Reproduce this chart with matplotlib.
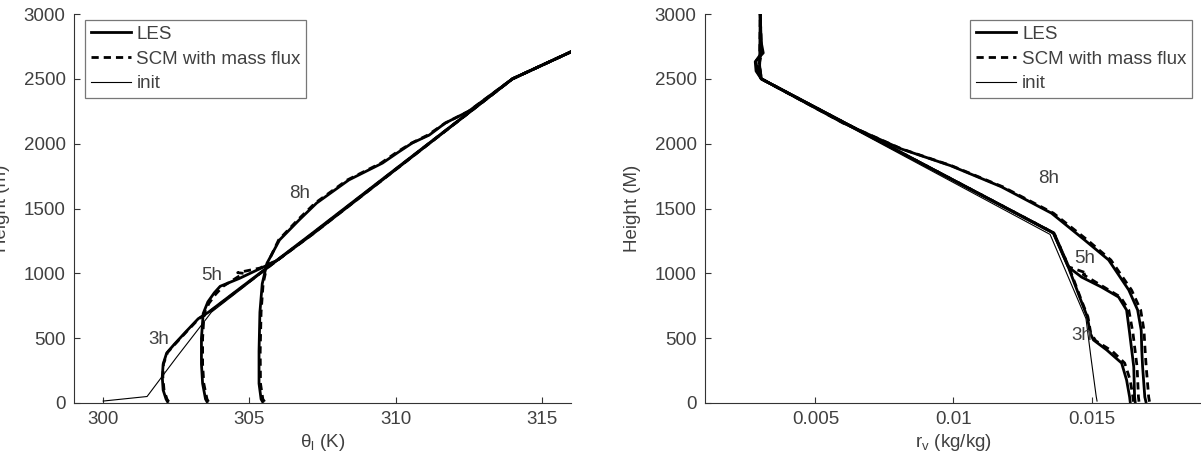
import numpy as np
import matplotlib
matplotlib.use('Agg')
import matplotlib.pyplot as plt

plt.rcParams['font.family'] = ['Liberation Sans', 'DejaVu Sans']
plt.rcParams['mathtext.fontset'] = 'custom'
plt.rcParams['mathtext.rm'] = 'Liberation Sans'

# ---- left panel: liquid water potential temperature (K) ----
init_h = [15, 50, 350, 650, 700, 1300, 2500, 2750]
init_th = [300.0, 301.5, 302.5, 303.53, 303.7, 307.13, 314.0, 316.4]

les3_h = [10, 30, 100, 200, 300, 385, 450, 550, 650, 700, 1300, 2500, 2750]
les3_th = [302.2, 302.15, 302.05, 302.02, 302.05, 302.17, 302.42, 302.83, 303.25, 303.6, 307.1, 314.0, 316.4]
scm3_h = [10, 30, 100, 200, 300, 390, 450, 550, 650, 700, 1300, 2500, 2750]
scm3_th = [302.24, 302.18, 302.08, 302.04, 302.06, 302.2, 302.44, 302.85, 303.27, 303.62, 307.12, 314.0, 316.4]

les5_h = [10, 30, 150, 300, 500, 690, 780, 850, 900, 960, 1040, 1100, 1300, 2500, 2750]
les5_th = [303.55, 303.5, 303.4, 303.36, 303.36, 303.42, 303.58, 303.8, 304.0, 304.65, 305.4, 305.95, 307.15, 314.0, 316.4]
scm5_h = [10, 30, 150, 300, 500, 690, 770, 840, 900, 1000, 1005, 1040, 1100, 1300, 2500, 2750]
scm5_th = [303.6, 303.55, 303.44, 303.4, 303.4, 303.45, 303.62, 303.85, 304.1, 304.8, 304.6, 305.35, 305.95, 307.15, 314.0, 316.4]

les8_h = [10, 30, 150, 400, 700, 920, 1077, 1257, 1411, 1542, 1720, 1850, 1935, 2005, 2066, 2159, 2250, 2500, 2750]
les8_th = [305.45, 305.4, 305.33, 305.33, 305.36, 305.44, 305.6, 306.03, 306.7, 307.3, 308.4, 309.55, 310.1, 310.57, 311.15, 311.7, 312.5, 314.0, 316.4]
scm8_h = [10, 30, 150, 400, 700, 920, 1077, 1257, 1411, 1542, 1720, 1850, 1935, 2005, 2066, 2159, 2250, 2500, 2750]
scm8_th = [305.52, 305.46, 305.38, 305.37, 305.4, 305.47, 305.62, 306.0, 306.65, 307.25, 308.35, 309.5, 310.05, 310.55, 311.1, 311.7, 312.5, 314.0, 316.4]

# ---- right panel: total water mixing ratio (kg/kg) ----
rinit_h = [15, 50, 350, 650, 700, 1300, 2500, 3000]
rinit_r = [0.0152, 0.01517, 0.01498, 0.0148, 0.0147, 0.0135, 0.003, 0.003]

rles3_h = [10, 46, 177, 308, 409, 486, 540, 663, 800, 1049, 1311, 2500, 2560, 2632, 2700, 2800, 3000]
rles3_r = [0.0164, 0.01638, 0.01627, 0.01609, 0.01555, 0.01507, 0.01495, 0.01485, 0.0146, 0.01416, 0.01362, 0.00304, 0.00285, 0.00282, 0.00311, 0.00302, 0.003]
rscm3_h = [10, 46, 177, 308, 400, 480, 540, 663, 800, 1049, 1311, 2500, 2600, 2700, 3000]
rscm3_r = [0.01652, 0.0165, 0.0164, 0.0162, 0.01575, 0.01515, 0.01497, 0.01487, 0.01462, 0.01418, 0.01364, 0.00304, 0.00295, 0.00305, 0.003]

rles5_h = [10, 46, 278, 540, 717, 817, 894, 971, 1049, 1311, 2500, 2560, 2640, 2700, 3000]
rles5_r = [0.01658, 0.01656, 0.01653, 0.01638, 0.01627, 0.01598, 0.01536, 0.01464, 0.01416, 0.01362, 0.00304, 0.00288, 0.00285, 0.00305, 0.003]
rscm5_h = [10, 46, 278, 540, 717, 817, 894, 990, 1000, 1049, 1311, 2500, 2600, 2700, 3000]
rscm5_r = [0.01672, 0.0167, 0.01665, 0.0165, 0.01635, 0.01605, 0.01545, 0.0147, 0.01485, 0.01418, 0.01364, 0.00304, 0.00292, 0.00303, 0.003]

rles8_h = [10, 46, 280, 409, 560, 717, 871, 1103, 1257, 1464, 1668, 1830, 1960, 2160, 2500, 2600, 3000]
rles8_r = [0.01697, 0.01693, 0.01685, 0.01682, 0.0168, 0.01667, 0.01635, 0.01562, 0.01475, 0.01355, 0.01173, 0.0099, 0.0081, 0.006, 0.00304, 0.00298, 0.003]
rscm8_h = [10, 46, 280, 409, 560, 717, 871, 1103, 1257, 1464, 1668, 1830, 1960, 2160, 2500, 2600, 3000]
rscm8_r = [0.0171, 0.01707, 0.01698, 0.01694, 0.0169, 0.01678, 0.01645, 0.0157, 0.01485, 0.01362, 0.01178, 0.00993, 0.00812, 0.006, 0.00304, 0.00298, 0.003]

hours = ['3h', '5h', '8h']
lab_th = [(301.9, 493), (303.71, 982), (306.71, 1619)]
lab_r = [(0.01464, 524), (0.01475, 1118), (0.01344, 1735)]

txt_col = '#404040'
ax_col = '#333333'
fs = 13.5

fig = plt.figure(figsize=(12.01, 4.58), dpi=100)
ax1 = fig.add_axes([0.0616, 0.1201, 0.4138, 0.8493])
ax2 = fig.add_axes([0.587, 0.1201, 0.4138, 0.8493])

lw_thick = 2.0
lw_thin = 0.8
dash = (0, (2.6, 1.8))

# left panel
ax1.plot(les3_th, les3_h, '-', color='k', lw=lw_thick, label='LES')
ax1.plot(scm3_th, scm3_h, ls=dash, color='k', lw=lw_thick, label='SCM with mass flux')
ax1.plot(init_th, init_h, '-', color='k', lw=lw_thin, label='init')
ax1.plot(les5_th, les5_h, '-', color='k', lw=lw_thick)
ax1.plot(scm5_th, scm5_h, ls=dash, color='k', lw=lw_thick)
ax1.plot(les8_th, les8_h, '-', color='k', lw=lw_thick)
ax1.plot(scm8_th, scm8_h, ls=dash, color='k', lw=lw_thick)

# right panel
ax2.plot(rles3_r, rles3_h, '-', color='k', lw=lw_thick, label='LES')
ax2.plot(rscm3_r, rscm3_h, ls=dash, color='k', lw=lw_thick, label='SCM with mass flux')
ax2.plot(rinit_r, rinit_h, '-', color='k', lw=lw_thin, label='init')
ax2.plot(rles5_r, rles5_h, '-', color='k', lw=lw_thick)
ax2.plot(rscm5_r, rscm5_h, ls=dash, color='k', lw=lw_thick)
ax2.plot(rles8_r, rles8_h, '-', color='k', lw=lw_thick)
ax2.plot(rscm8_r, rscm8_h, ls=dash, color='k', lw=lw_thick)

for hr, (x, y) in zip(hours, lab_th):
    ax1.text(x, y, hr, ha='center', va='center', fontsize=fs, color=txt_col)
for hr, (x, y) in zip(hours, lab_r):
    ax2.text(x, y, hr, ha='center', va='center', fontsize=fs, color=txt_col)

ax1.set_xlim(299, 316)
ax1.set_xticks([300, 305, 310, 315])
ax2.set_xlim(0.001, 0.019)
ax2.set_xticks([0.005, 0.01, 0.015])
ax2.set_xticklabels(['0.005', '0.01', '0.015'])

for ax in (ax1, ax2):
    ax.set_ylim(0, 3000)
    ax.set_yticks(np.arange(0, 3001, 500))
    ax.spines['top'].set_visible(False)
    ax.spines['right'].set_visible(False)
    for s in ('left', 'bottom'):
        ax.spines[s].set_color(ax_col)
        ax.spines[s].set_linewidth(0.8)
    ax.tick_params(direction='in', length=4, width=0.8, colors=ax_col,
                   labelcolor=txt_col, labelsize=fs, pad=6)

ax1.set_xlabel(r'θ$_\mathregular{l}$ (K)', fontsize=fs, color=txt_col, labelpad=3)
ax1.set_ylabel('Height (m)', fontsize=fs, color=txt_col, labelpad=10)
ax2.set_xlabel(r'r$_\mathregular{v}$ (kg/kg)', fontsize=fs, color=txt_col, labelpad=3)
ax2.set_ylabel('Height (M)', fontsize=fs, color=txt_col, labelpad=10)

leg_kw = dict(fontsize=fs, frameon=True, fancybox=False, handlelength=2.15,
              handletextpad=0.3, labelspacing=0.4, borderpad=0.3, borderaxespad=0)
leg1 = ax1.legend(loc='upper left', bbox_to_anchor=(0.022, 0.984), **leg_kw)
leg2 = ax2.legend(loc='upper right', bbox_to_anchor=(0.98, 0.984), **leg_kw)
for leg in (leg1, leg2):
    leg.get_frame().set_edgecolor('#555555')
    leg.get_frame().set_linewidth(0.9)
    for t in leg.get_texts():
        t.set_color(txt_col)

fig.savefig('out.png', dpi=100)
